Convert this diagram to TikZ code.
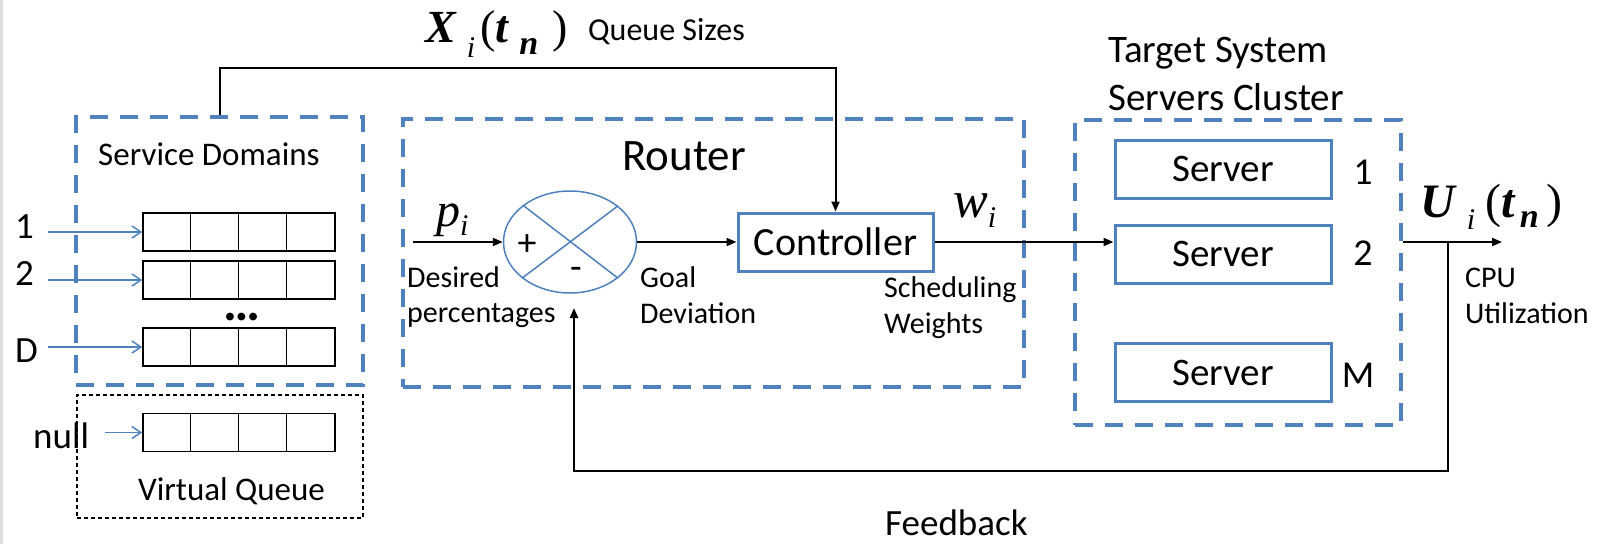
\documentclass[tikz,border=0pt]{standalone}
\usepackage{fontspec}
\setmainfont{Carlito}
\newfontfamily\tms{Liberation Serif}
\usetikzlibrary{arrows.meta,shapes.geometric}
\definecolor{ob}{RGB}{79,129,189}
\newcommand\fsz[1]{\fontsize{#1}{#1}\selectfont}
\begin{document}
\begin{tikzpicture}[x=1pt,y=-1pt,
  dbox/.style={draw=ob, line width=3.5pt, dash pattern=on 18pt off 12pt, inner sep=0pt},
  sbox/.style={draw=ob, line width=3pt, inner sep=0pt, minimum width=216pt, minimum height=58pt, font=\fsz{39}},
  qrow/.style={draw=black, line width=1.5pt, minimum width=192pt, minimum height=38pt, inner sep=0pt},
  barr/.style={draw=ob, line width=1.5pt, -{Straight Barb[length=9pt,width=12pt]}},
  arr/.style={draw=black, line width=2pt, -{Triangle[length=10pt,width=8pt]}},
  lbl/.style={anchor=base west, inner sep=0pt},
  num/.style={anchor=base, inner sep=0pt, font=\fsz{38}}]
\useasboundingbox (0,0) rectangle (1606,544);
\fill[gray!25] (0,0) rectangle (3,544);

% dashed group boxes
\node[dbox, minimum width=287pt, minimum height=268pt] (sd) at (219.5,251) {};
\node[draw=black, line width=1.2pt, dash pattern=on 4pt off 3pt, inner sep=0pt,
      minimum width=286pt, minimum height=123pt] (vq) at (220,456.5) {};
\node[dbox, minimum width=621pt, minimum height=268pt] (router) at (713.5,253) {};
\node[dbox, minimum width=326pt, minimum height=305pt] (cluster) at (1238,272.5) {};

% queues
\node[qrow] (q1) at (239,232) {};
\node[qrow] (q2) at (239,280) {};
\node[qrow] (qD) at (239,347) {};
\node[qrow] (qn) at (239,432.5) {};
\foreach \q in {q1,q2,qD,qn}{
  \foreach \k in {1,2,3}{
    \draw[black, line width=1.5pt] ([xshift=\k*48pt]\q.north west) -- ([xshift=\k*48pt]\q.south west);
  }
}
\coordinate (in1) at (48,232);
\coordinate (in2) at (48,280);
\coordinate (inD) at (48,347);
\coordinate (inn) at (105,432.5);
\draw[barr] (in1) -- (q1.west);
\draw[barr] (in2) -- (q2.west);
\draw[barr] (inD) -- (qD.west);
\draw[barr] (inn) -- (qn.west);
\node[lbl, font=\fsz{37}] (l1) at (15,238) {1};
\node[lbl, font=\fsz{37}] (l2) at (15,285) {2};
\node[lbl, font=\fsz{37}] (lD) at (15,362) {D};
\node[lbl, font=\fsz{37}] (ln) at (33,448) {null};
\node[anchor=base, inner sep=0pt, font=\fsz{52}\bfseries] (dots) at (242,320) {…};
\node[lbl, font=\fsz{33}] (sdt) at (98,165) {Service Domains};
\node[lbl, font=\fsz{33}] (vqt) at (138,500) {Virtual Queue};

% router
\node[lbl, font=\fsz{45}] (rt) at (622,170) {Router};
\node[draw=ob, line width=1.5pt, ellipse, minimum width=133pt, minimum height=102pt, inner sep=0pt] (sum) at (570,242) {};
\draw[ob, line width=1.5pt] (sum.37.5) -- (sum.217.5);
\draw[ob, line width=1.5pt] (sum.142.5) -- (sum.-37.5);
\node[inner sep=0pt, font=\fsz{38}] (plus) at (527,245) {+};
\node[inner sep=0pt, font=\fsz{38}] (minus) at (576,273) {-};
\node[draw=ob, line width=3pt, inner sep=0pt, minimum width=195pt, minimum height=58pt, font=\fsz{40}] (ctrl) at (835.5,242) {Controller};

\coordinate (pin) at (413,242);
\draw[arr] (pin) -- (sum.west);
\draw[arr] (sum.east) -- (sum.east -| ctrl.west);
\node[lbl] (pl) at (436,226) {\tms\fsz{48}\textit{p}\raisebox{-9pt}{\fsz{30}\textit{i}}};
\node[lbl, font=\fsz{30}] (des1) at (407,287) {Desired};
\node[lbl, font=\fsz{30}] (des2) at (407,322) {percentages};
\node[lbl, font=\fsz{30}] (gd1) at (640,287) {Goal};
\node[lbl, font=\fsz{30}] (gd2) at (640,323) {Deviation};
\node[lbl] (wl) at (953,217) {\tms\fsz{52}\textit{w}\raisebox{-10pt}{\fsz{30}\textit{i}}};
\node[lbl, font=\fsz{30}] (sw1) at (884,297) {Scheduling};
\node[lbl, font=\fsz{30}] (sw2) at (884,333) {Weights};

% servers
\node[sbox] (srv1) at (1223,169) {Server};
\node[sbox] (srv2) at (1223,254) {Server};
\node[sbox] (srvM) at (1223,372.5) {Server};
\node[num] (n1) at (1363,184) {1};
\node[num] (n2) at (1363,265) {2};
\node[num] (nM) at (1358,387) {M};
\node[lbl, font=\fsz{39}] (ts1) at (1108,62) {Target System};
\node[lbl, font=\fsz{39}] (ts2) at (1108,110) {Servers Cluster};
\draw[arr] (ctrl.east) -- (ctrl.east -| srv2.west);

% output
\coordinate (uend) at (1502,242);
\draw[arr] (ctrl.east -| cluster.east) -- (uend);
\node[lbl] (ul) at (1420,217) {\tms\fsz{48}\textbf{\textit{U}}\hspace{10pt}\raisebox{-12pt}{\fsz{30}\textit{i}}\hspace{10pt}(\textbf{\textit{t}}\hspace{4pt}\raisebox{-10pt}{\fsz{34}\textbf{\textit{n}}}\hspace{8pt})};
\node[lbl, font=\fsz{30}] (cpu1) at (1465,287) {CPU};
\node[lbl, font=\fsz{30}] (cpu2) at (1465,323) {Utilization};

% top connector (queue sizes)
\coordinate (topL) at (219.5,68);
\draw[arr] (sd.north) -- (topL) -| (ctrl.north);
\node[lbl] (xl) at (425,42) {\tms\fsz{46}\textbf{\textit{X}}\hspace{10pt}\raisebox{-15pt}{\fsz{30}\textit{i}}\hspace{5pt}(\textbf{\textit{t}}\hspace{10pt}\raisebox{-12pt}{\fsz{34}\textbf{\textit{n}}}\hspace{14pt})};
\node[lbl, font=\fsz{32}] (qs) at (588,40) {Queue Sizes};

% feedback
\coordinate (fbs) at (1448,242);
\coordinate (fbe) at (574,308);
\draw[arr, line width=2.5pt] (fbs) -- ++(0,229) -| (fbe);
\node[lbl, font=\fsz{37}] (fb) at (885,535) {Feedback};
\end{tikzpicture}
\end{document}
